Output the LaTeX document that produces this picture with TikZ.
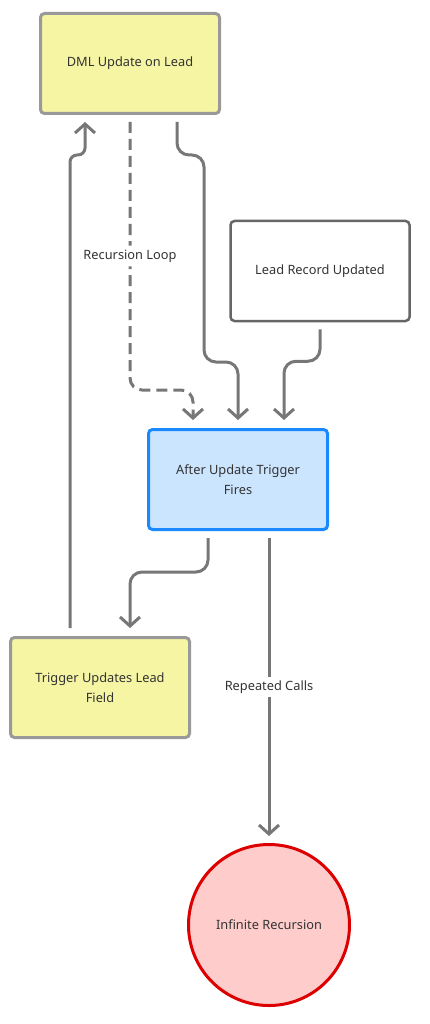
\documentclass[tikz,border=0pt]{standalone}
\usepackage{fontspec}
\setmainfont{Noto Sans}
\usetikzlibrary{arrows.meta,calc}
\definecolor{yfill}{HTML}{F5F5A3}
\definecolor{gborder}{HTML}{999999}
\definecolor{dborder}{HTML}{666666}
\definecolor{bfill}{HTML}{CCE5FF}
\definecolor{bborder}{HTML}{1A88FF}
\definecolor{rfill}{HTML}{FFCCCC}
\definecolor{rborder}{HTML}{DD0000}
\definecolor{edgec}{HTML}{777777}
\definecolor{txt}{HTML}{333333}
\tikzset{
  box/.style={draw, rounded corners=4pt, line width=3pt, minimum width=179pt, minimum height=100pt, align=center, text=txt, font=\fontsize{12.8}{20}\selectfont},
  yellowbox/.style={box, fill=yfill, draw=gborder},
  whitebox/.style={box, fill=white, draw=dborder, line width=2.5pt},
  bluebox/.style={box, fill=bfill, draw=bborder},
  endcircle/.style={circle, draw=rborder, fill=rfill, line width=3pt, minimum size=161pt, text=txt, font=\fontsize{12.8}{20}\selectfont},
  edge/.style={draw=edgec, line width=3pt, -{Straight Barb[length=9pt,width=20pt]}},
  lbl/.style={fill=white, text=txt, font=\fontsize{12.8}{20}\selectfont, inner sep=4pt}
}
\begin{document}
\begin{tikzpicture}[x=1pt,y=-1pt]
\useasboundingbox (0,0) rectangle (429,1024);
\node[yellowbox] (dml) at (130,63.5) {DML Update on Lead};
\node[whitebox] (lead) at (320,271) {Lead Record Updated};
\node[bluebox] (after) at (238,479.5) {After Update Trigger\\Fires};
\node[yellowbox] (trig) at (100,687.5) {Trigger Updates Lead\\Field};
\node[endcircle] (inf) at (269,925) {Infinite Recursion};

\draw[edge, rounded corners=12pt] ($(dml.south)+(47,7)$) -- ++(0,33) -- ++(27,0) -- ++(0,207) -- ++(34,0) -- ($(after.north)+(0,-8)$);
\draw[edge, rounded corners=12pt] ($(lead.south)+(0,7)$) -- ++(0,32) -- ++(-36,0) -- ($(after.north)+(46,-8)$);
\draw[edge, rounded corners=12pt, dash pattern=on 11pt off 6pt] ($(dml.south)+(0,7)$) -- node[lbl]{Recursion Loop} ++(0,268) -- ++(63,0) -- ($(after.north)+(-45,-8)$);
\draw[edge, rounded corners=12pt] ($(after.south)+(-30,7)$) -- ++(0,34) -- ++(-78,0) -- ($(trig.north)+(30,-8)$);
\draw[edge, rounded corners=7pt] ($(trig.north)+(-30,-8)$) -- ++(0,-473) -- ++(15,0) -- ($(dml.south)+(-45,7)$);
\draw[edge] ($(after.south)+(31,7)$) -- node[lbl]{Repeated Calls} ($(inf.north)+(0,-7)$);
\end{tikzpicture}
\end{document}
